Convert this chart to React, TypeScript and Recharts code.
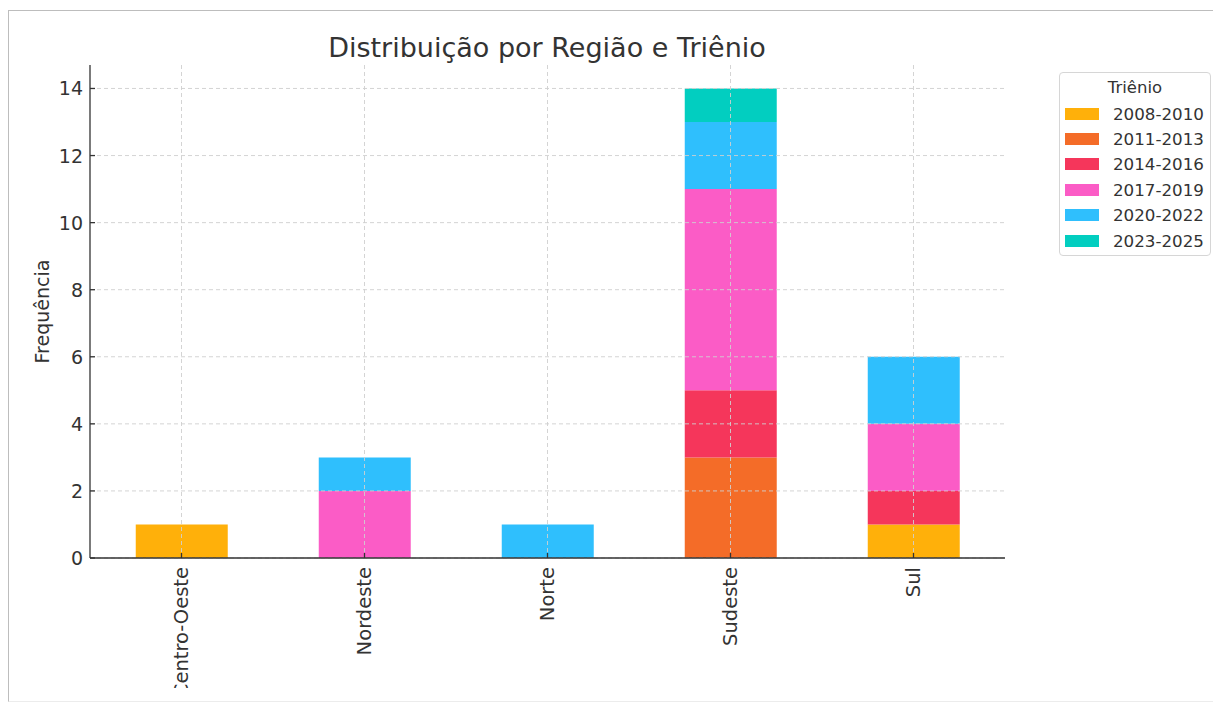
import { BarChart, Bar, XAxis, YAxis, CartesianGrid } from 'recharts'

const regions = ['Centro-Oeste', 'Nordeste', 'Norte', 'Sudeste', 'Sul']
const trienios = ['2008-2010', '2011-2013', '2014-2016', '2017-2019', '2020-2022', '2023-2025']
const colors = ['#FFB00A', '#F46C28', '#F5365B', '#FB5CC6', '#2FBFFD', '#02CEC0']

// frequency per region, one array per triênio
const t2008 = [1, 0, 0, 0, 1]
const t2011 = [0, 0, 0, 3, 0]
const t2014 = [0, 0, 0, 2, 1]
const t2017 = [0, 2, 0, 6, 2]
const t2020 = [0, 1, 1, 2, 2]
const t2023 = [0, 0, 0, 1, 0]
const series = [t2008, t2011, t2014, t2017, t2020, t2023]

const yTicks = [0, 2, 4, 6, 8, 10, 12, 14]

const data = regions.map((region, i) => {
  const row: Record<string, string | number> = { region }
  trienios.forEach((t, k) => {
    row[t] = series[k][i]
  })
  return row
})

const font = '"DejaVu Sans", sans-serif'
const ink = '#333333'

function XTick(props: any) {
  const { x, y, payload } = props
  const ty = y + 9
  return (
    <g>
      <line x1={x} x2={x} y1={y} y2={y - 5} stroke={ink} strokeWidth={1.3} />
      <text
        x={x}
        y={ty}
        transform={`rotate(-90 ${x} ${ty})`}
        textAnchor="end"
        dominantBaseline="central"
        fontSize={19.5}
        fontFamily={font}
        fill={ink}
      >
        {payload.value}
      </text>
    </g>
  )
}

function YTick(props: any) {
  const { x, y, payload } = props
  return (
    <g>
      <line x1={x} x2={x + 5} y1={y} y2={y} stroke={ink} strokeWidth={1.3} />
      <text
        x={x - 7}
        y={y}
        textAnchor="end"
        dominantBaseline="central"
        fontSize={19}
        fontFamily={font}
        fill={ink}
      >
        {payload.value}
      </text>
    </g>
  )
}

function YLabel(props: any) {
  const { viewBox } = props
  const cx = viewBox.x + 22
  const cy = viewBox.y + viewBox.height / 2
  return (
    <text
      x={cx}
      y={cy}
      transform={`rotate(-90 ${cx} ${cy})`}
      textAnchor="middle"
      dominantBaseline="central"
      fontSize={19}
      fontFamily={font}
      fill={ink}
    >
      Frequência
    </text>
  )
}

export default function App() {
  return (
    <div
      style={{
        marginTop: 2,
        width: 1213,
        height: 690,
        borderTop: '1px solid #bdbdbd',
        borderLeft: '1px solid #bdbdbd',
        borderBottom: '1px solid #ececec',
        background: '#fff',
      }}
    >
      <div style={{ position: 'relative', width: 1212, height: 677, overflow: 'hidden' }}>
        <div
          style={{
            position: 'absolute',
            left: 0,
            top: 23,
            width: 1076,
            textAlign: 'center',
            fontFamily: font,
            fontSize: 27,
            lineHeight: '27px',
            color: ink,
          }}
        >
          Distribuição por Região e Triênio
        </div>

        <BarChart
          width={1212}
          height={679}
          data={data}
          margin={{ top: 54, right: 216, left: 11, bottom: 32 }}
          barCategoryGap="25%"
        >
          <XAxis
            dataKey="region"
            height={100}
            interval={0}
            tickSize={0}
            tickMargin={0}
            tickLine={false}
            tick={<XTick />}
            axisLine={{ stroke: ink, strokeWidth: 1.3 }}
          />
          <YAxis
            type="number"
            width={70}
            domain={[0, 14.7]}
            ticks={yTicks}
            tickSize={0}
            tickMargin={0}
            tickLine={false}
            tick={<YTick />}
            axisLine={{ stroke: ink, strokeWidth: 1.3 }}
            label={{ content: <YLabel /> }}
          />
          {trienios.map((t, k) => (
            <Bar key={t} dataKey={t} stackId="a" fill={colors[k]} isAnimationActive={false} />
          ))}
          <CartesianGrid
            stroke="#cfcfcf"
            strokeDasharray="4 3"
            strokeWidth={0.9}
            syncWithTicks
            zIndex={400}
          />
        </BarChart>

        <div
          style={{
            position: 'absolute',
            left: 1050,
            top: 61,
            width: 150,
            height: 182,
            border: '1px solid #d6d6d6',
            borderRadius: 4,
            background: '#fff',
            fontFamily: font,
            color: ink,
          }}
        >
          <div style={{ height: 26, lineHeight: '26px', textAlign: 'center', fontSize: 16.5, marginTop: 2 }}>
            Triênio
          </div>
          {trienios.map((t, k) => (
            <div key={t} style={{ display: 'flex', alignItems: 'center', height: 25.4 }}>
              <span
                style={{
                  display: 'inline-block',
                  marginLeft: 5,
                  width: 34,
                  height: 12,
                  background: colors[k],
                }}
              />
              <span style={{ marginLeft: 14, fontSize: 16.7, lineHeight: '20px' }}>{t}</span>
            </div>
          ))}
        </div>
      </div>
    </div>
  )
}
